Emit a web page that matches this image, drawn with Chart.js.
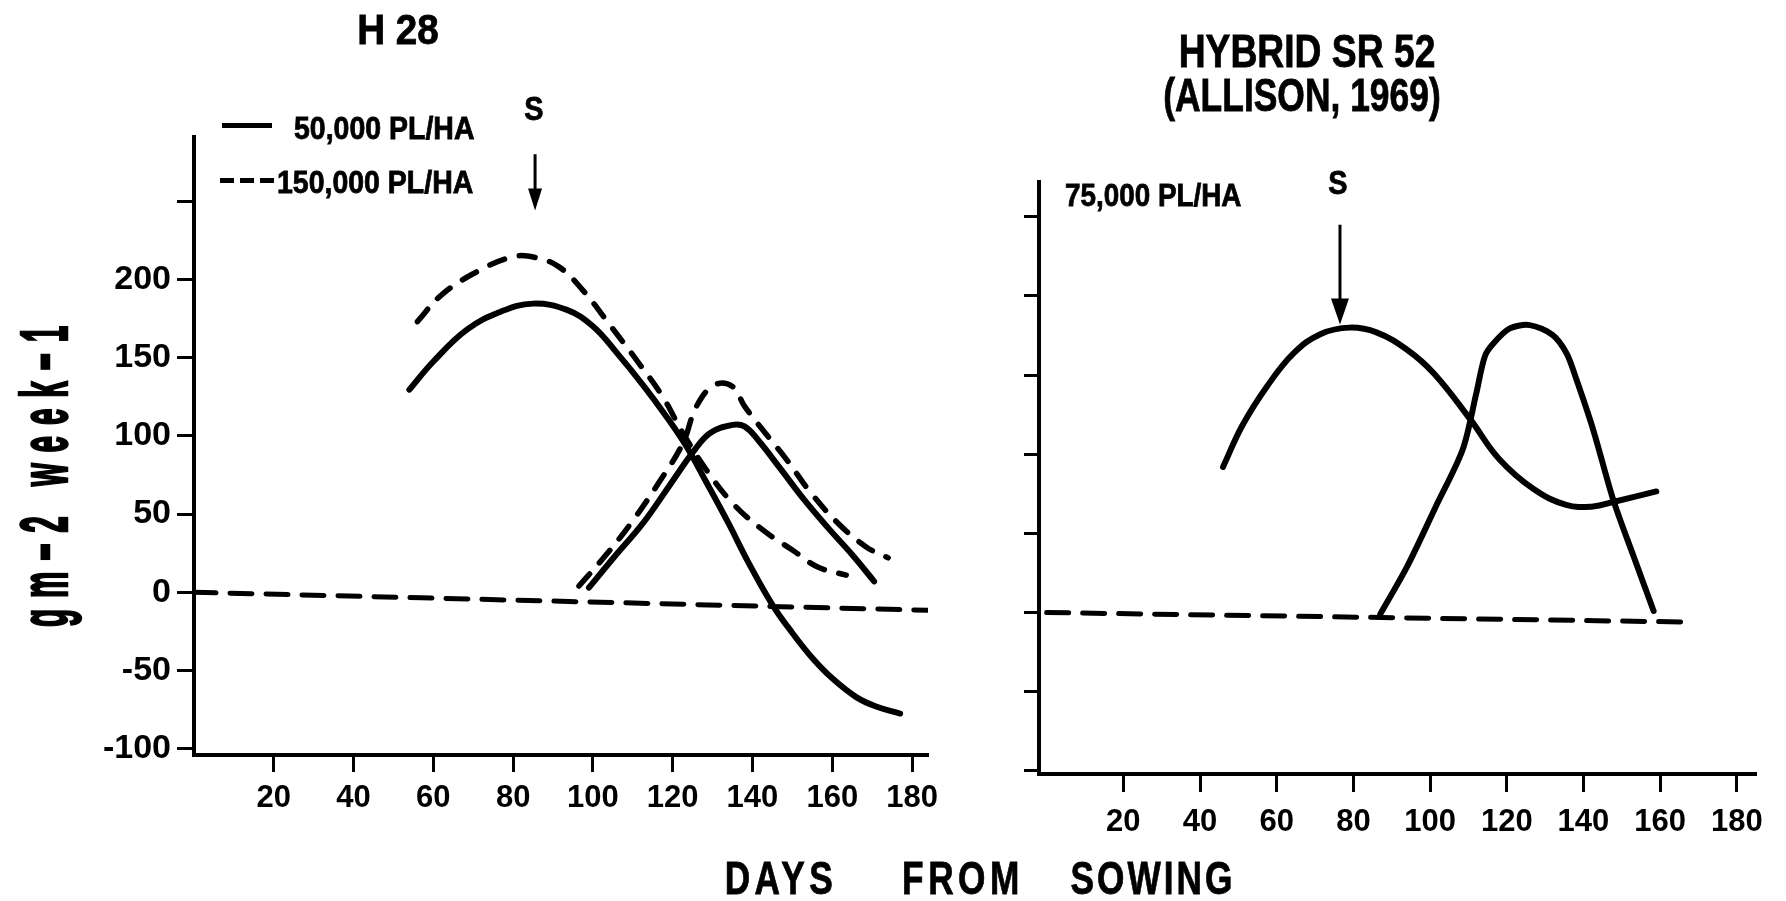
<!DOCTYPE html>
<html><head><meta charset="utf-8">
<script src="https://cdn.jsdelivr.net/npm/chart.js@4.4.0/dist/chart.umd.min.js"></script>
<style>
html,body{margin:0;padding:0;background:#fff;}
body{width:1786px;height:901px;position:relative;overflow:hidden;font-family:"Liberation Sans",Arial,sans-serif;font-weight:bold;color:#000;}
.t{position:absolute;white-space:nowrap;line-height:1;transform-origin:center center;-webkit-text-stroke:0.8px #000;}
canvas{position:absolute;top:0;}
.ln{position:absolute;}
</style></head><body>
<canvas id="leftChart" width="960" height="901" style="left:0;width:960px;height:901px"></canvas>
<canvas id="rightChart" width="826" height="901" style="left:960px;width:826px;height:901px"></canvas>

<div class="t" style="left:398px;top:30px;font-size:42px;transform:translate(-50%,-50%) scaleX(0.92)">H 28</div>
<div class="t" style="left:1307px;top:51px;font-size:46px;transform:translate(-50%,-50%) scaleX(0.81)">HYBRID SR 52</div>
<div class="t" style="left:1302px;top:95px;font-size:46px;transform:translate(-50%,-50%) scaleX(0.77)">(ALLISON, 1969)</div>

<div class="ln" style="left:222px;top:123px;width:50px;height:5px;background:#000"></div>
<div class="t" style="left:294px;top:128px;font-size:32px;transform-origin:left center;transform:translateY(-50%) scaleX(0.89)">50,000 PL/HA</div>
<div class="ln" style="left:220px;top:178px;width:54px;height:5px;background:repeating-linear-gradient(90deg,#000 0 14px,transparent 14px 20px)"></div>
<div class="t" style="left:277px;top:182px;font-size:32px;transform-origin:left center;transform:translateY(-50%) scaleX(0.89)">150,000 PL/HA</div>
<div class="t" style="left:534px;top:108px;font-size:34px;transform:translate(-50%,-50%) scaleX(0.85)">S</div>

<div class="t" style="left:1065px;top:195px;font-size:32px;transform-origin:left center;transform:translateY(-50%) scaleX(0.87)">75,000 PL/HA</div>
<div class="t" style="left:1338px;top:182px;font-size:34px;transform:translate(-50%,-50%) scaleX(0.85)">S</div>

<div class="t" style="left:44px;top:471px;font-size:66px;letter-spacing:24px;-webkit-text-stroke:2.5px #000;transform:translate(-50%,-50%) rotate(-90deg) scaleX(0.45)">gm−2 week−1</div>

<div class="t" style="left:781px;top:877px;font-size:47px;letter-spacing:6px;transform:translate(-50%,-50%) scaleX(0.75)">DAYS</div>
<div class="t" style="left:963px;top:877px;font-size:47px;letter-spacing:6px;transform:translate(-50%,-50%) scaleX(0.75)">FROM</div>
<div class="t" style="left:1153px;top:877px;font-size:47px;letter-spacing:4px;transform:translate(-50%,-50%) scaleX(0.75)">SOWING</div>

<script>
// ---------- DATA ----------
// Left panel: H 28
const h28Plant50kA_days = [54, 60, 68.5, 77, 85, 93.5, 100, 106, 113, 118.5, 123.5, 128.5, 134, 139, 145, 150, 155, 160, 166, 171, 177];
const h28Plant50kA_vals = [129.5, 147.5, 168, 179.5, 184.5, 180.5, 170, 153, 131, 112, 93, 70, 44, 19, -8, -26, -42, -55, -67, -73, -77.5];
const h28Plant150kA_days = [56, 62, 71, 80, 85.5, 91.5, 97.5, 104.5, 111.5, 117.5, 122.5, 128.5, 135, 142.5, 150, 156.5, 163.5];
const h28Plant150kA_vals = [173, 190, 205, 214.5, 214, 208, 193, 170, 146.5, 125, 102, 78, 57, 40, 27, 16, 11];
const h28Plant50kB_days = [99, 105.5, 112.5, 119, 125.5, 129.5, 135, 138, 141.5, 147, 153, 159, 165, 170.5];
const h28Plant50kB_vals = [3, 23, 44, 67.5, 91, 102, 107, 106, 97, 79, 59, 41, 24, 7];
const h28Plant150kB_days = [96.5, 103, 109.5, 116.5, 122.5, 126, 130.5, 135, 138, 142.5, 148.5, 154.5, 161.5, 168.5, 174];
const h28Plant150kB_vals = [4, 23, 44, 70, 95, 119, 132.5, 131.5, 119, 104, 85, 64, 44, 29, 22];
const h28Zero_days = [0, 184];
const h28Zero_vals = [0, -11.5];
const h28Arrow = [85.5, 280, 244];   // day, from value, to value

// Right panel: Hybrid SR 52 (Allison, 1969)
const sr52A_days = [46, 51, 57.5, 64.5, 71.5, 79, 86, 94, 101, 110.5, 118, 127, 135.5, 142.5, 148, 159];
const sr52A_vals = [92, 118, 143, 164, 176, 180, 177, 166, 151, 122, 97, 78, 68, 67, 70, 76.5];
const sr52B_days = [87, 94, 101.5, 108.5, 112, 114.3, 116.5, 120.8, 126, 132, 135.6, 138.2, 142.6, 147.8, 153, 158.3];
const sr52B_vals = [-1, 29, 67, 103, 138, 162, 170, 179.5, 181.6, 175.3, 163.7, 147, 115, 71, 36, 1];
const sr52Zero_days = [0, 167];
const sr52Zero_vals = [0, -6];
const sr52Arrow = [76.5, 245, 182];

// Tick labels
const xTickDays = [20, 40, 60, 80, 100, 120, 140, 160, 180];
const leftYTicks = [-100, -50, 0, 50, 100, 150, 200, 250];
const leftYLabelled = [-100, -50, 0, 50, 100, 150, 200];
const rightYTicks = [-100, -50, 0, 50, 100, 150, 200, 250];

// ---------- BUILD ----------
const FONT = '"Liberation Sans", Arial, sans-serif';
function pts(xs, ys){ return xs.map((d,i)=>({x:d, y:ys[i]})); }
const solidStyle = {borderColor:'#000', borderWidth:6, pointRadius:0, fill:false, tension:0.4, borderCapStyle:'round', borderJoinStyle:'round'};
const dashStyle = Object.assign({}, solidStyle, {borderWidth:5.5, borderDash:[16,15]});
const zeroStyle = Object.assign({}, solidStyle, {borderWidth:5, tension:0, borderDash:[22,14]});

const arrowPlugin = {
  id:'arrows',
  afterDatasetsDraw(chart, args, opts){
    const ctx = chart.ctx, xs = chart.scales.x, ys = chart.scales.y;
    const a = opts.arrow; if(!a) return;
    const px = xs.getPixelForValue(a[0]);
    const y0 = ys.getPixelForValue(a[1]);
    const y1 = ys.getPixelForValue(a[2]);
    ctx.save();
    ctx.strokeStyle = '#000'; ctx.fillStyle = '#000'; ctx.lineWidth = opts.width;
    ctx.beginPath(); ctx.moveTo(px, y0); ctx.lineTo(px, y1 - opts.head + 2); ctx.stroke();
    ctx.beginPath();
    ctx.moveTo(px - opts.headW/2, y1 - opts.head);
    ctx.lineTo(px + opts.headW/2, y1 - opts.head);
    ctx.lineTo(px, y1); ctx.closePath(); ctx.fill();
    ctx.restore();
  }
};

function axisCommon(){
  return {
    grid:{display:true, drawOnChartArea:false, drawTicks:true, tickColor:'#000', tickWidth:3},
    border:{display:true, color:'#000', width:4},
  };
}

function makeChart(id, datasets, cfg){
  const x = Object.assign(axisCommon(), {
    type:'linear', min:cfg.xmin, max:cfg.xmax,
    afterBuildTicks: s => { s.ticks = xTickDays.map(v=>({value:v})); },
    afterFit: s => { s.height = cfg.xh; },
    ticks:{color:'#000', autoSkip:false, maxRotation:0, padding:cfg.xpad, font:{family:FONT, size:31, weight:'bold'}, callback:v=>String(v)}
  });
  x.grid.tickLength = cfg.xtl;
  const y = Object.assign(axisCommon(), {
    type:'linear', min:cfg.ymin, max:cfg.ymax,
    afterBuildTicks: s => { s.ticks = cfg.yTicks.map(v=>({value:v})); },
    afterFit: s => { s.width = cfg.yw; },
    ticks:{color:'#000', autoSkip:false, padding:6, font:{family:FONT, size:34, weight:'bold'}, callback:v=>cfg.yLabelled.includes(v) ? String(v) : ''}
  });
  y.grid.tickLength = cfg.ytl;
  return new Chart(document.getElementById(id), {
    type:'line',
    data:{datasets},
    options:{
      responsive:false, animation:false, parsing:true,
      layout:{padding:cfg.pad},
      plugins:{legend:{display:false}, tooltip:{enabled:false}, title:{display:false},
        arrows:{arrow:cfg.arrow, width:3, head:cfg.head, headW:cfg.headW}},
      scales:{x, y}
    },
    plugins:[arrowPlugin]
  });
}

makeChart('leftChart', [
  Object.assign({label:'50,000 PL/HA', data:pts(h28Plant50kA_days, h28Plant50kA_vals)}, solidStyle),
  Object.assign({label:'150,000 PL/HA', data:pts(h28Plant150kA_days, h28Plant150kA_vals)}, dashStyle),
  Object.assign({label:'50,000 PL/HA (2)', data:pts(h28Plant50kB_days, h28Plant50kB_vals)}, solidStyle),
  Object.assign({label:'150,000 PL/HA (2)', data:pts(h28Plant150kB_days, h28Plant150kB_vals)}, dashStyle),
  Object.assign({label:'zero', data:pts(h28Zero_days, h28Zero_vals)}, zeroStyle)
], {xmin:0, xmax:184, ymin:-104, ymax:291, yTicks:leftYTicks, yLabelled:leftYLabelled,
    yw:194, xh:80, xtl:17, ytl:17, xpad:8, pad:{left:0, right:32, top:137, bottom:66},
    arrow:h28Arrow, head:22, headW:14});

makeChart('rightChart', [
  Object.assign({label:'75,000 PL/HA', data:pts(sr52A_days, sr52A_vals)}, solidStyle),
  Object.assign({label:'75,000 PL/HA (2)', data:pts(sr52B_days, sr52B_vals)}, solidStyle, {tension:0.3}),
  Object.assign({label:'zero', data:pts(sr52Zero_days, sr52Zero_vals)}, zeroStyle)
], {xmin:-2, xmax:185, ymin:-102, ymax:272, yTicks:rightYTicks, yLabelled:[],
    yw:79, xh:80, xtl:18, ytl:15, xpad:12, pad:{left:0, right:30, top:182, bottom:47},
    arrow:sr52Arrow, head:26, headW:18});
</script>
</body></html>
